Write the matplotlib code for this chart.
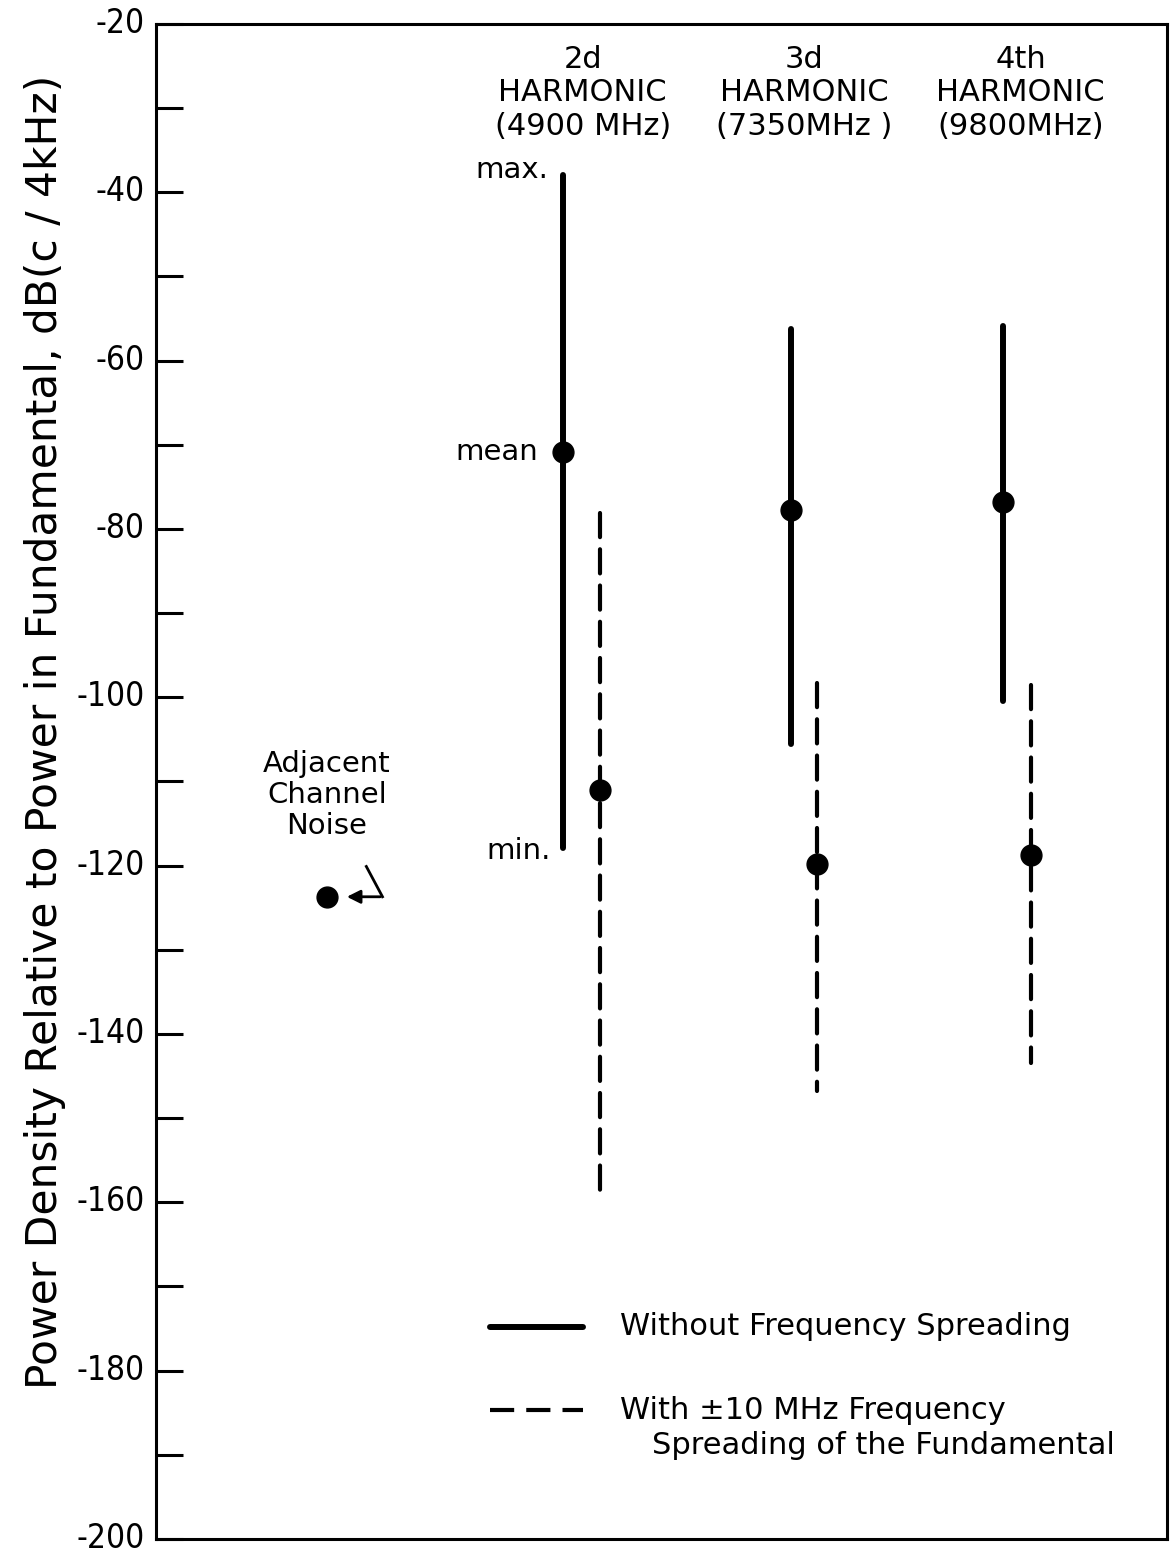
import numpy as np
import matplotlib
matplotlib.use("Agg")
import matplotlib.pyplot as plt
import matplotlib.transforms as mtransforms
from matplotlib.ticker import MultipleLocator

plt.rcParams['font.family'] = ['DejaVu Sans']
plt.rcParams['axes.unicode_minus'] = False

# --- data (dB(c/4kHz)) ---
harmonics = ['2d', '3d', '4th']
freq_labels = ['(4900 MHz)', '(7350MHz )', '(9800MHz)']
solid_max = [-38.0, -56.2, -55.9]
solid_mean = [-70.8, -77.8, -76.8]
solid_min = [-117.9, -105.5, -100.4]
spread_max = [-78.1, -98.3, -98.5]
spread_mean = [-111.0, -119.8, -118.7]
spread_min = [-158.5, -146.8, -143.5]
adjacent_noise = -123.7

# horizontal layout (arbitrary x units 0..10)
solid_x = [4.03, 6.28, 8.38]
spread_x = [4.39, 6.54, 8.65]
label_x = [4.22, 6.41, 8.55]
adjacent_x = 1.69

fig = plt.figure(figsize=(11.73, 15.55), dpi=100)
ax = fig.add_axes([0.133, 0.0103, 0.862, 0.9743])

for i in range(len(harmonics)):
    ax.plot([solid_x[i], solid_x[i]], [solid_max[i], solid_min[i]], color='black',
            lw=4.3, solid_capstyle='round')
    ax.plot(solid_x[i], solid_mean[i], 'o', color='black', ms=15)
    ax.plot([spread_x[i], spread_x[i]], [spread_max[i], spread_min[i]], color='black',
            lw=3.0, dashes=(5.8, 2.9), dash_capstyle='round')
    ax.plot(spread_x[i], spread_mean[i], 'o', color='black', ms=15)
    ax.text(label_x[i], -28.2, harmonics[i] + '\nHARMONIC\n' + freq_labels[i],
            ha='center', va='center', fontsize=22, linespacing=1.18)

# max / mean / min annotation on the 2d harmonic
ax.text(solid_x[0] - 0.15, solid_max[0] + 0.6, 'max.', ha='right', va='center', fontsize=21)
ax.text(solid_x[0] - 0.25, solid_mean[0], 'mean', ha='right', va='center', fontsize=21)
ax.text(solid_x[0] - 0.13, solid_min[0] - 0.4, 'min.', ha='right', va='center', fontsize=21)

# adjacent channel noise
ax.plot(adjacent_x, adjacent_noise, 'o', color='black', ms=15)
ax.text(adjacent_x, -111.6, 'Adjacent\nChannel\nNoise', ha='center', va='center',
        fontsize=21, linespacing=1.12)
ax.plot([2.08, 2.24], [-120.1, adjacent_noise], color='black', lw=2.0)
ax.annotate('', xy=(1.86, adjacent_noise), xytext=(2.245, adjacent_noise),
            arrowprops=dict(arrowstyle='-|>', color='black', lw=2.0, mutation_scale=20))

# key
ax.plot([3.30, 4.22], [-174.8, -174.8], color='black', lw=4.3, solid_capstyle='round')
ax.text(4.59, -174.8, 'Without Frequency Spreading', ha='left', va='center', fontsize=22)
ax.plot([3.30, 4.22], [-184.7, -184.7], color='black', lw=3.0, dashes=(5.8, 2.9))
ax.text(4.59, -184.7, 'With \u00b110 MHz Frequency', ha='left', va='center', fontsize=22)
ax.text(4.91, -188.9, 'Spreading of the Fundamental', ha='left', va='center', fontsize=22)

ax.set_xlim(0, 10)
ax.set_ylim(-200, -20)
ax.set_xticks([])
ax.yaxis.set_major_locator(MultipleLocator(20))
ax.yaxis.set_minor_locator(MultipleLocator(10))
ax.tick_params(axis='y', which='both', direction='in', length=19.5, width=2.2,
               right=False, pad=8)
ax.tick_params(axis='y', which='major', labelsize=24)
# nudge labels up a touch so the bottom one stays inside the figure
nudge = mtransforms.ScaledTranslation(0, 4 / 100, fig.dpi_scale_trans)
for lab in ax.get_yticklabels():
    lab.set_fontstretch('condensed')
    lab.set_transform(lab.get_transform() + nudge)
for sp in ax.spines.values():
    sp.set_linewidth(2.2)

ax.set_ylabel('Power Density Relative to Power in Fundamental, dB(c / 4kHz)', fontsize=30.5)
ax.yaxis.set_label_coords(-0.089, 0.533)

plt.savefig('out.png', dpi=100)
